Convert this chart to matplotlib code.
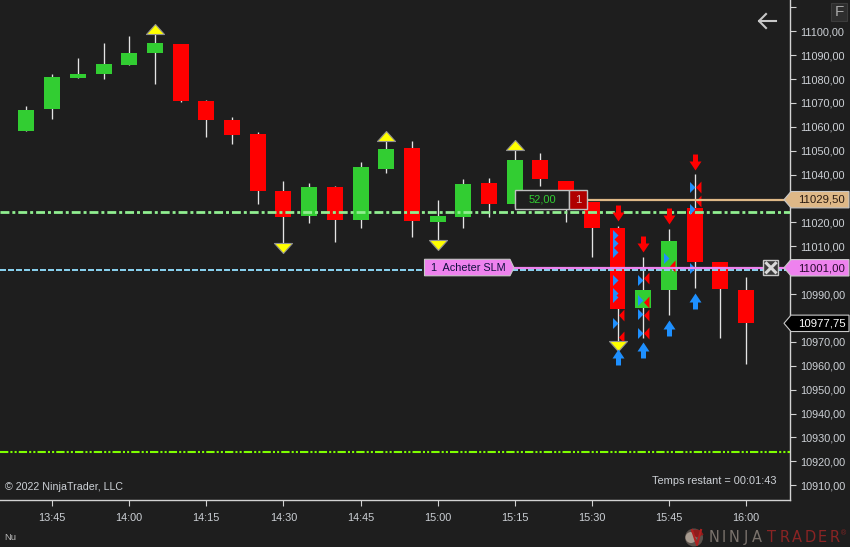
import matplotlib
matplotlib.use('Agg')
import matplotlib.pyplot as plt
from matplotlib.patches import Polygon, Rectangle, Circle, Wedge
from matplotlib.path import Path

plt.rcParams['font.family'] = ['Liberation Sans', 'DejaVu Sans']

# candles, 5 min bars
times = ['13:40', '13:45', '13:50', '13:55', '14:00', '14:05', '14:10', '14:15', '14:20', '14:25',
         '14:30', '14:35', '14:40', '14:45', '14:50', '14:55', '15:00', '15:05', '15:10', '15:15',
         '15:20', '15:25', '15:30', '15:35', '15:40', '15:45', '15:50', '15:55', '16:00']
opens = [11058.25, 11067.5, 11080.5, 11082.0, 11086.0, 11091.0, 11094.75, 11070.75, 11062.75, 11057.0,
         11033.0, 11022.75, 11034.75, 11021.0, 11042.25, 11051.0, 11020.25, 11022.25, 11036.5, 11027.75,
         11046.0, 11037.25, 11028.5, 11017.5, 10984.25, 10991.75, 11026.0, 11003.5, 10991.75]
closes = [11067.0, 11080.75, 11082.0, 11086.25, 11091.0, 11095.0, 11070.75, 11062.75, 11056.5, 11033.0,
          11022.25, 11034.75, 11021.0, 11043.25, 11050.75, 11020.5, 11022.75, 11036.0, 11027.75, 11046.0,
          11038.25, 11028.5, 11017.5, 10983.75, 10991.75, 11012.25, 11003.5, 10992.0, 10977.75]
highs = [11068.75, 11082.0, 11088.75, 11095.0, 11098.0, 11099.25, 11094.75, 11071.25, 11064.0, 11057.75,
         11037.25, 11036.5, 11035.25, 11045.25, 11054.5, 11054.0, 11029.5, 11038.25, 11038.5, 11050.25,
         11049.0, 11037.25, 11028.5, 11018.5, 11005.5, 11017.25, 11040.25, 11003.5, 10997.0]
lows = [11058.25, 11063.25, 11080.5, 11080.0, 11086.0, 11078.0, 11070.5, 11055.75, 11052.75, 11027.75,
        11011.5, 11019.75, 11011.75, 11017.5, 11040.75, 11014.0, 11011.75, 11017.5, 11022.25, 11026.5,
        11035.25, 11020.25, 11005.5, 10970.0, 10971.5, 10981.25, 10992.5, 10971.5, 10960.75]

# yellow swing triangles
tri_up_t = ['14:05', '14:50', '15:15']
tri_up_p = [11100.75, 11056.25, 11052.5]
tri_dn_t = ['14:30', '15:00', '15:35']
tri_dn_p = [11009.25, 11010.5, 10968.25]

# big arrows
arrow_t = ['15:35', '15:40', '15:45', '15:50']
arrow_dn_p = [11023.75, 11010.75, 11022.5, 11045.25]
arrow_up_p = [10963.5, 10966.5, 10976.0, 10987.25]

# executions
buy_t = ['15:35', '15:35', '15:35', '15:35', '15:35', '15:35', '15:35',
         '15:40', '15:40', '15:40', '15:40', '15:45', '15:50', '15:50', '15:50']
buy_p = [11014.75, 11011.5, 11007.5, 10996.0, 10990.5, 10988.75, 10978.0,
         10996.0, 10987.5, 10981.5, 10973.75, 11005.0, 11034.75, 11025.5, 11001.0]
sell_t = ['15:35', '15:35', '15:40', '15:40', '15:40', '15:40', '15:45', '15:50', '15:50']
sell_p = [10981.25, 10972.0, 10996.75, 10986.5, 10981.25, 10973.75, 11001.75, 11034.75, 11029.0]

# levels
level_green = 11024.5
level_blue = 11000.0
level_lime = 10924.0
position_price = 11029.5
order_price = 11001.0
last_price = 10977.75

y_ticks = list(range(10910, 11111, 10))
hidden_labels = [11110, 11030, 11000, 10980]  # behind the F button and the price flags
x_tick_labels = ['13:45', '14:00', '14:15', '14:30', '14:45', '15:00', '15:15', '15:30', '15:45', '16:00']


def mins(t):
    h, m = t.split(':')
    return int(h) * 60 + int(m)


def fr(v):
    return f'{v:.2f}'.replace('.', ',')


BG = '#1E1E1E'
GREY = '#D2D2D2'
TXT = '#CDD1D6'
UP = '#32CD32'
DOWN = '#FF0000'
BLUE = '#1E90FF'

fig = plt.figure(figsize=(8.5, 5.47), dpi=100, facecolor=BG)
ax = fig.add_axes([0, 47 / 547, 790 / 850, 500 / 547], facecolor=BG)
ax.set_xlim(814.86, 968.56)
ax.set_ylim(10903.8, 11113.08)

x = [mins(t) for t in times]
colors = [UP if c >= o else DOWN for o, c in zip(opens, closes)]
ax.vlines(x, lows, highs, color='#E4E4E4', lw=0.95, zorder=2)
ax.bar(x, [abs(c - o) for o, c in zip(opens, closes)], bottom=[min(o, c) for o, c in zip(opens, closes)],
       width=3.11, color=colors, linewidth=0, zorder=3)

ax.axhline(level_green, color='#90EE90', lw=2.0, ls=(0, (3.2, 1.07, 1.07, 1.07)), zorder=4)
ax.axhline(level_blue, color='#87CEEB', lw=1.44, ls=(0, (3, 1)), zorder=4)
ax.axhline(level_lime, color='#7FFF00', lw=1.5, ls=(0, (4, 1, 1, 1, 1, 1)), zorder=4)

# markers, vertices are in px so markersize = 0.72 * full extent
tri_up = Path([(-9, -5), (0, 5), (9, -5), (-9, -5)], closed=True)
tri_dn = Path([(-9, 5), (0, -5), (9, 5), (-9, 5)], closed=True)
ax.plot([mins(t) for t in tri_up_t], tri_up_p, ls='', marker=tri_up, ms=13, mfc='#FFFF00', mec='#909090', mew=0.8, zorder=6)
ax.plot([mins(t) for t in tri_dn_t], tri_dn_p, ls='', marker=tri_dn, ms=13, mfc='#FFFF00', mec='#909090', mew=0.8, zorder=6)

arr_dn = Path([(-2.5, 8), (2.5, 8), (2.5, 1), (6, 1), (0, -8), (-6, 1), (-2.5, 1), (-2.5, 8)], closed=True)
arr_up = Path([(-2.5, -8), (2.5, -8), (2.5, -1), (6, -1), (0, 8), (-6, -1), (-2.5, -1), (-2.5, -8)], closed=True)
ax.plot([mins(t) for t in arrow_t], arrow_dn_p, ls='', marker=arr_dn, ms=11.5, mfc=DOWN, mec='none', zorder=6)
ax.plot([mins(t) for t in arrow_t], arrow_up_p, ls='', marker=arr_up, ms=11.5, mfc=BLUE, mec='none', zorder=6)

buy_m = Path([(-5.5, -5.5), (0, 0), (-5.5, 5.5), (-5.5, -5.5)], closed=True)
sell_m = Path([(6, -6), (0.5, 0), (6, 6), (6, -6)], closed=True)
ax.plot([mins(t) for t in sell_t], sell_p, ls='', marker=sell_m, ms=8.6, mfc=DOWN, mec='none', zorder=5)
ax.plot([mins(t) for t in buy_t], buy_p, ls='', marker=buy_m, ms=7.9, mfc=BLUE, mec='none', zorder=5)

# axes
for s in ['top', 'left']:
    ax.spines[s].set_visible(False)
for s in ['right', 'bottom']:
    ax.spines[s].set_color(GREY)
    ax.spines[s].set_linewidth(1.0)
ax.yaxis.tick_right()
ax.set_yticks(y_ticks)
ax.set_yticklabels([fr(v) if v not in hidden_labels else '' for v in y_ticks])
ax.set_xticks([mins(t) for t in x_tick_labels])
ax.set_xticklabels(x_tick_labels)
ax.tick_params(axis='y', length=4, width=0.8, color=GREY, labelcolor=TXT, labelsize=7.8, pad=3)
ax.tick_params(axis='x', length=4, width=0.8, color=GREY, labelcolor=TXT, labelsize=7.8, pad=5.5)

# overlay in pixel coords for the trader UI bits
ov = fig.add_axes([0, 0, 1, 1], facecolor='none')
ov.set_xlim(0, 850)
ov.set_ylim(547, 0)
ov.axis('off')


def py(p):
    return 547 - ax.transData.transform((ax.get_xlim()[0], p))[1]


def price_flag(p, fill, edge, txtc):
    y = py(p)
    ov.add_patch(Polygon([(784, y), (791, y - 8.2), (849, y - 8.2), (849, y + 8.2), (791, y + 8.2)],
                         closed=True, fc=fill, ec=edge, lw=0.8, zorder=8))
    ov.text(821.5, y + 0.3, fr(p), color=txtc, fontsize=8.2, ha='center', va='center', zorder=9)


yp = py(position_price)
yo = py(order_price)
ov.plot([587, 785], [yp, yp], color='#DEB887', lw=1.6, zorder=7, solid_capstyle='butt')
ov.plot([514, 785], [yo, yo], color='#EE82EE', lw=1.6, zorder=7, solid_capstyle='butt')
price_flag(position_price, '#DEB887', '#C8C8C8', '#2A1A10')
price_flag(order_price, '#EE82EE', '#C8C8C8', '#2A0A30')
price_flag(last_price, '#000000', '#C8C8C8', '#FFFFFF')

# position box
ov.add_patch(Rectangle((515, yp - 10), 54, 19, fc=BG, ec='#C0C0C0', lw=1, zorder=8))
ov.add_patch(Rectangle((569, yp - 10), 18, 19, fc='#B00000', ec='#C0C0C0', lw=1, zorder=8))
ov.text(542.5, yp, '52,00', color=UP, fontsize=8, ha='center', va='center', zorder=9)
ov.text(578, yp, '1', color='#D8B8B8', fontsize=8, ha='center', va='center', zorder=9)

# order label + close button
ov.add_patch(Polygon([(424.5, yo - 8.5), (510, yo - 8.5), (514, yo), (510, yo + 8), (424.5, yo + 8)],
                     closed=True, fc='#EE82EE', ec='#C8C8C8', lw=0.8, zorder=8))
ov.text(431, yo, '1  Acheter SLM', color='#101040', fontsize=7.8, ha='left', va='center', zorder=9)
ov.add_patch(Rectangle((763.5, yo - 7.5), 15, 15, fc='#3A3A3A', ec='#C8C8C8', lw=1, zorder=8))
ov.plot([766.5, 775.5], [yo - 4.5, yo + 4.5], color='#D8D8D8', lw=2.2, zorder=9)
ov.plot([766.5, 775.5], [yo + 4.5, yo - 4.5], color='#D8D8D8', lw=2.2, zorder=9)

# texts
ov.text(5, 487, '© 2022 NinjaTrader, LLC', color=TXT, fontsize=7.7, ha='left', va='center')
ov.text(777, 481, 'Temps restant = 00:01:43', color=TXT, fontsize=7.9, ha='right', va='center')
ov.text(4, 538, 'Nu', color='#B8B8B8', fontsize=6.8, ha='left', va='center')

# top right buttons
ov.add_patch(Rectangle((831.5, 2.5), 16, 18, fc='#2E2E2E', ec='#3C3C3C', lw=0.8))
ov.text(839.5, 11.5, 'F', color='#A8A8A8', fontsize=11, ha='center', va='center')
ov.plot([759, 776], [21, 21], color='#C8C8C8', lw=1.5)
ov.plot([766, 759, 766], [14, 21, 28], color='#C8C8C8', lw=1.5)

# logo
ov.add_patch(Circle((694, 537.5), 9, fc='#5A524C', ec='none'))
ov.add_patch(Circle((691, 537.5), 5.5, fc='#A89C90', ec='none'))
ov.add_patch(Wedge((696, 537.5), 8, 230, 340, fc='#8E1C1C', ec='none'))
ov.plot([692, 697, 701], [530, 545, 530], color='#B02020', lw=1.5)
ninja_x = [714, 724, 734, 745.5, 756.5]
trader_x = [771.5, 784.5, 797, 810.5, 822.5, 834.5]
for ch, px in zip('NINJA', ninja_x):
    ov.text(px, 537.5, ch, color='#7A726C', fontsize=10.5, family='DejaVu Sans', ha='center', va='center')
for ch, px in zip('TRADER', trader_x):
    ov.text(px, 537.5, ch, color='#8A2424', fontsize=10.5, family='DejaVu Sans', ha='center', va='center')
ov.text(844, 534, '®', color='#8A2424', fontsize=5, ha='center', va='center')

plt.savefig('out.png', dpi=100, facecolor=BG)
